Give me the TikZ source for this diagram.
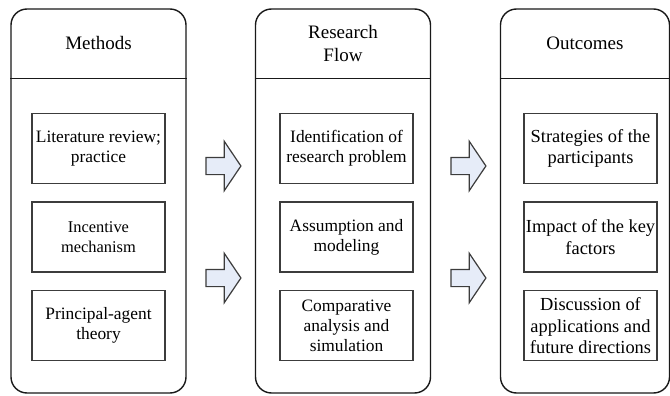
\documentclass[tikz,border=0pt]{standalone}
\usepackage{fontspec}
\setmainfont{Liberation Serif}
\usetikzlibrary{positioning,shapes.arrows}
\definecolor{framegray}{RGB}{25,25,25}
\definecolor{boxgray}{RGB}{60,60,60}
\definecolor{arrowfill}{RGB}{230,236,248}

\begin{document}
\begin{tikzpicture}[x=0.5pt, y=-0.5pt,
    column/.style={rectangle, rounded corners=8pt, draw=framegray, line width=0.7pt,
                   minimum width=87.5pt, minimum height=192pt, inner sep=0pt},
    heading/.style={align=center, font=\fontsize{9.5}{11.5}\selectfont},
    itembox/.style={rectangle, draw=boxgray, line width=0.6pt, minimum width=66.5pt,
                    minimum height=35pt, align=center, inner sep=0pt,
                    font=\fontsize{8.7}{10}\selectfont},
    flowarrow/.style={single arrow, draw=boxgray, fill=arrowfill, line width=0.6pt,
                      minimum height=17.5pt, inner xsep=0pt, inner ysep=4pt,
                      single arrow head extend=8pt, single arrow tip angle=112}]
    \useasboundingbox (0,0) rectangle (670,396);

    % the three columns
    \node[column] (methods) at (98.5,201) {};
    \node[column] (flow) at (343,201) {};
    \node[column, minimum width=84.5pt] (outcomes) at (585,201) {};
    \foreach \col in {methods,flow,outcomes}
      \draw[framegray, line width=0.7pt] ([yshift=-35pt]\col.north west) -- ([yshift=-35pt]\col.north east);

    \node[heading] (methodsT) at ([yshift=-17.5pt]methods.north) {Methods};
    \node[heading] (flowT) at ([yshift=-17.5pt]flow.north) {Research\\Flow};
    \node[heading] (outcomesT) at ([yshift=-17.5pt]outcomes.north) {Outcomes};

    % methods
    \node[itembox] (m1) at ([yshift=-70pt]methods.north) {Literature review;\\practice};
    \node[itembox, below=8.75pt of m1, font=\fontsize{8.2}{10}\selectfont] (m2) {Incentive\\mechanism};
    \node[itembox, below=8.75pt of m2] (m3) {Principal-agent\\theory};

    % research flow
    \node[itembox] (f1) at ([xshift=1.75pt, yshift=-70pt]flow.north) {Identification of\\research problem};
    \node[itembox, below=8.75pt of f1] (f2) {Assumption and\\modeling};
    \node[itembox, below=8.75pt of f2] (f3) {Comparative\\analysis and\\simulation};

    % outcomes
    \node[itembox, font=\fontsize{9.2}{10.8}\selectfont] (o1) at ([xshift=2.75pt, yshift=-70pt]outcomes.north) {Strategies of the\\participants};
    \node[itembox, below=8.75pt of o1, font=\fontsize{9.2}{10.8}\selectfont] (o2) {Impact of the key\\factors};
    \node[itembox, below=8.75pt of o2, font=\fontsize{9.2}{10.8}\selectfont] (o3) {Discussion of\\applications and\\future directions};

    % block arrows
    \node[flowarrow] (a1) at (220.5,166) {};
    \node[flowarrow] (a2) at (220.5,278) {};
    \node[flowarrow] (a3) at (465.5,166) {};
    \node[flowarrow] (a4) at (465.5,278) {};
  \end{tikzpicture}
\end{document}
